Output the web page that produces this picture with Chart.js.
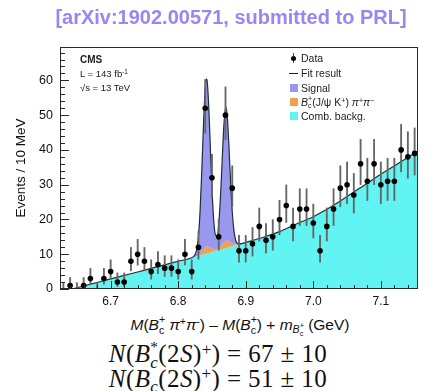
<!DOCTYPE html>
<html>
<head>
<meta charset="utf-8">
<script src="https://cdn.jsdelivr.net/npm/chart.js@4.4.1/dist/chart.umd.min.js"></script>
<style>
  html, body { margin: 0; padding: 0; background: #fff; }
  body { width: 441px; height: 391px; position: relative; overflow: hidden;
         font-family: "Liberation Sans", Arial, sans-serif; color: #111; }
  #wrap { position: absolute; left: 0; top: 0; width: 441px; height: 310px; }
  .abs { position: absolute; white-space: nowrap; z-index: 2; }
  #title { left: 0; top: 5px; width: 462px; text-align: center; font-weight: bold;
           font-size: 20px; line-height: 24px; color: #9c84f2; }
  .cms { left: 80px; font-size: 9.5px; line-height: 12px; color: #222; }
  .ss { display: inline-block; font-size: 0.68em; line-height: 1; vertical-align: -0.35em; text-align: left; }
  .ss > span { display: block; }
  .sp { font-size: 0.68em; vertical-align: 0.45em; line-height: 1; }
  .sb { font-size: 0.68em; vertical-align: -0.3em; line-height: 1; }
  .leg { left: 288px; font-size: 10.5px; line-height: 14px; height: 14px; color: #222; }
  .key { display: inline-block; position: relative; width: 11px; height: 14px; margin-right: 2px; vertical-align: top; }
  .sw { position: absolute; left: 2px; top: 3px; width: 8px; height: 8px; }
  .kbar { position: absolute; left: 5px; top: 2px; width: 1px; height: 10px; background: #444; }
  .kdot { position: absolute; left: 3px; top: 5px; width: 5px; height: 5px; border-radius: 50%; background: #000; }
  .kline { position: absolute; left: 1px; top: 7px; width: 9px; height: 1px; background: #222; }
  #xtitle { left: 0; top: 314px; width: 480px; text-align: center; font-size: 15.5px; line-height: 18px; color: #111; }
  .eq { left: 0; width: 436px; text-align: center; font-family: "Liberation Serif", "Times New Roman", serif;
        font-size: 25px; line-height: 26px; letter-spacing: 0.4px; color: #111; }
  .eq .star { font-size: 0.9em; }
</style>
</head>
<body>
<div id="title" class="abs">[arXiv:1902.00571, submitted to PRL]</div>

<div id="wrap"><canvas id="chart" width="441" height="310"></canvas></div>

<div class="abs cms" style="top:54px;font-weight:bold;font-size:10px;">CMS</div>
<div class="abs cms" style="top:68px;">L = 143 fb<span class="sp">-1</span></div>
<div class="abs cms" style="top:82px;">√s = 13 TeV</div>

<div class="abs leg" style="top:51px;"><span class="key"><span class="kbar"></span><span class="kdot"></span></span>Data</div>
<div class="abs leg" style="top:66px;"><span class="key"><span class="kline"></span></span>Fit result</div>
<div class="abs leg" style="top:81px;"><span class="key"><span class="sw" style="background:#9898ee;"></span></span>Signal</div>
<div class="abs leg" style="top:95px;"><span class="key"><span class="sw" style="background:#f2a050;"></span></span><i>B</i><span class="ss"><span>+</span><span>c</span></span>(J/ψ K<span class="sp">+</span>) <i>π</i><span class="sp">+</span><i>π</i><span class="sp">−</span></div>
<div class="abs leg" style="top:109px;"><span class="key"><span class="sw" style="background:#62f4f2;"></span></span>Comb. backg.</div>

<div id="xtitle" class="abs"><i>M</i>(<i>B</i><span class="ss"><span>+</span><span>c</span></span> <i>π</i><span class="sp">+</span><i>π</i><span class="sp">-</span>) – <i>M</i>(<i>B</i><span class="ss"><span>+</span><span>c</span></span>) + <i>m</i><span class="sb"><i>B</i><span class="ss"><span>+</span><span>c</span></span></span> (GeV)</div>

<div class="abs eq" style="top:339px;"><i>N</i>(<i>B</i><span class="ss"><span class="star">*</span><span><i>c</i></span></span>(2<i>S</i>)<span class="sp">+</span>)&nbsp;= 67 ± 10</div>
<div class="abs eq" style="top:365px;"><i>N</i>(<i>B<span class="sb">c</span></i>(2<i>S</i>)<span class="sp">+</span>)&nbsp;= 51 ± 10</div>

<script>
// Bin centres (GeV) and event counts per 10 MeV bin
const binMass = [6.63, 6.64, 6.65, 6.66, 6.67, 6.68, 6.69, 6.70, 6.71, 6.72,
                 6.73, 6.74, 6.75, 6.76, 6.77, 6.78, 6.79, 6.80, 6.81, 6.82,
                 6.83, 6.84, 6.85, 6.86, 6.87, 6.88, 6.89, 6.90, 6.91, 6.92,
                 6.93, 6.94, 6.95, 6.96, 6.97, 6.98, 6.99, 7.00, 7.01, 7.02,
                 7.03, 7.04, 7.05, 7.06, 7.07, 7.08, 7.09, 7.10, 7.11, 7.12,
                 7.13, 7.14, 7.15];
const counts = [0, 1, 0, 1, 3, 0, 3, 5, 2, 2,
                8, 10, 8, 5, 7, 6, 6, 5, 10, 5,
                12, 52, 32, 15, 50, 29, 11, 11, 13, 18,
                14, 15, 20, 24, 18, 23, 23, 19, 11, 18,
                23, 29, 30, 27, 36, 31, 36, 30, 31, 31,
                40, 38, 39];
// Asymmetric Poisson uncertainties (down / up)
const errLow = [0, 0.83, 0, 0.83, 1.63, 0, 1.63, 2.16, 1.29, 1.29,
                2.77, 3.11, 2.77, 2.16, 2.58, 2.38, 2.38, 2.16, 3.11, 2.16,
                3.42, 7.18, 5.62, 3.82, 7.04, 5.35, 3.27, 3.27, 3.56, 4.18,
                3.69, 3.82, 4.41, 4.86, 4.18, 4.75, 4.75, 4.30, 3.27, 4.18,
                4.75, 5.35, 5.45, 5.16, 5.97, 5.54, 5.97, 5.45, 5.54, 5.54,
                6.30, 6.14, 6.22];
const errHigh = [1.84, 2.30, 1.84, 2.30, 2.92, 1.84, 2.92, 3.38, 2.64, 2.64,
                 3.95, 4.27, 3.95, 3.38, 3.77, 3.58, 3.58, 3.38, 4.27, 3.38,
                 4.56, 8.26, 6.70, 4.95, 8.12, 6.42, 4.42, 4.42, 4.69, 5.30,
                 4.83, 4.95, 5.51, 5.94, 5.30, 5.84, 5.84, 5.41, 4.42, 5.30,
                 5.84, 6.42, 6.52, 6.23, 7.05, 6.61, 7.05, 6.52, 6.61, 6.61,
                 7.39, 7.22, 7.31];

// Fit curve samples: stacked tops of each component
const fitMass = [6.643, 6.66, 6.68, 6.70, 6.72, 6.74, 6.76, 6.78, 6.80,
                 6.82, 6.8225, 6.825, 6.8275, 6.83, 6.8325, 6.835, 6.8375, 6.84, 6.8418,
                 6.8425, 6.845, 6.8475, 6.85, 6.8525, 6.855, 6.8575, 6.86, 6.8625, 6.865,
                 6.8675, 6.8705, 6.8725, 6.875, 6.8775, 6.88, 6.8825, 6.885, 6.8875, 6.89,
                 6.895, 6.90, 6.925, 6.95, 6.975, 7.00, 7.025, 7.05, 7.075, 7.10, 7.125, 7.155];
const combTop = [0, 0.86, 1.88, 2.90, 3.90, 4.90, 5.95, 6.96, 7.98,
                 9.00, 9.14, 9.28, 9.41, 9.55, 9.69, 9.83, 9.96, 10.10, 10.20,
                 10.24, 10.38, 10.51, 10.65, 10.79, 10.93, 11.06, 11.20, 11.34, 11.48,
                 11.61, 11.78, 11.89, 12.03, 12.16, 12.30, 12.44, 12.58, 12.71, 12.85,
                 13.13, 13.40, 14.80, 16.50, 18.70, 20.80, 23.50, 26.60, 29.80, 33.00, 36.00, 39.70];
const peakingTop = [0, 0.86, 1.88, 2.90, 3.90, 4.90, 5.95, 6.96, 7.98,
                    9.00, 9.14, 9.28, 9.41, 9.55, 10.19, 10.83, 11.36, 11.90, 12.20,
                    12.34, 12.18, 11.91, 11.65, 11.49, 11.43, 11.46, 11.80, 12.24, 12.68,
                    13.31, 13.88, 13.89, 13.63, 13.36, 13.10, 12.94, 12.78, 12.71, 12.85,
                    13.13, 13.40, 14.80, 16.50, 18.70, 20.80, 23.50, 26.60, 29.80, 33.00, 36.00, 39.70];
const fitTop = [0, 0.86, 1.88, 2.90, 3.90, 4.90, 5.95, 6.96, 7.98,
                9.00, 9.30, 9.90, 11.5, 15.2, 22.9, 34.5, 47.6, 57.8, 60.4,
                60.2, 53.4, 41.1, 28.8, 20.0, 15.6, 15.2, 18.7, 26.2, 36.5,
                46.7, 52.4, 50.0, 41.5, 31.0, 22.2, 16.8, 14.1, 13.1, 12.9,
                13.13, 13.40, 14.80, 16.50, 18.70, 20.80, 23.50, 26.60, 29.80, 33.00, 36.00, 39.70];

const xTickValues = [6.7, 6.8, 6.9, 7.0, 7.1];
const yTickValues = [0, 10, 20, 30, 40, 50, 60];

const curve = arr => fitMass.map((m, i) => ({ x: m, y: arr[i] }));

// Frame and inward-pointing ticks, drawn from the scales
const frameTicks = {
  id: 'frameTicks',
  afterDatasetsDraw(chart) {
    const { ctx, chartArea: a, scales: { x, y } } = chart;
    ctx.save();
    ctx.strokeStyle = '#2a2a2a';
    ctx.lineWidth = 1;
    ctx.beginPath();
    x.ticks.forEach(t => {
      const px = Math.round(x.getPixelForValue(t.value)) + 0.5;
      ctx.moveTo(px, a.bottom); ctx.lineTo(px, a.bottom - 8);
    });
    for (let k = 332; k <= 357; k++) {
      if (k % 5 === 0) continue;
      const px = Math.round(x.getPixelForValue(k * 0.02)) + 0.5;
      ctx.moveTo(px, a.bottom); ctx.lineTo(px, a.bottom - 4);
    }
    y.ticks.forEach(t => {
      const py = Math.round(y.getPixelForValue(t.value)) + 0.5;
      ctx.moveTo(a.left, py); ctx.lineTo(a.left + 9, py);
    });
    for (let v = 2; v < 70; v += 2) {
      if (v % 10 === 0) continue;
      const py = Math.round(y.getPixelForValue(v)) + 0.5;
      ctx.moveTo(a.left, py); ctx.lineTo(a.left + 5, py);
    }
    ctx.stroke();
    ctx.strokeRect(Math.round(a.left) + 0.5, Math.round(a.top) + 0.5,
                   Math.round(a.right - a.left) - 1, Math.round(a.bottom - a.top) - 1);
    ctx.restore();
  }
};

new Chart(document.getElementById('chart'), {
  type: 'line',
  data: {
    datasets: [
      {
        label: 'Comb. backg.',
        data: curve(combTop),
        fill: 'origin',
        backgroundColor: '#62f4f2',
        borderWidth: 0,
        pointRadius: 0,
        cubicInterpolationMode: 'monotone',
        order: 5
      },
      {
        label: 'Bc+(J/psi K+) pi+pi-',
        data: curve(peakingTop),
        fill: '-1',
        backgroundColor: '#f2a050',
        borderWidth: 0,
        pointRadius: 0,
        cubicInterpolationMode: 'monotone',
        order: 4
      },
      {
        label: 'Signal',
        data: curve(fitTop),
        fill: '-1',
        backgroundColor: '#9898ee',
        borderColor: '#1f2f33',
        borderWidth: 1.2,
        pointRadius: 0,
        cubicInterpolationMode: 'monotone',
        order: 3
      },
      {
        type: 'bar',
        label: 'Data uncertainty',
        data: binMass.map((m, i) => ({ x: m, y: [counts[i] - errLow[i], counts[i] + errHigh[i]] })),
        backgroundColor: '#666666',
        borderWidth: 0,
        barThickness: 1.2,
        grouped: false,
        order: 2
      },
      {
        label: 'Data',
        data: binMass.map((m, i) => ({ x: m, y: counts[i] })),
        showLine: false,
        pointRadius: counts.map(c => c > 0 ? 2.8 : 0),
        pointBackgroundColor: '#000',
        pointBorderWidth: 0,
        order: 1
      }
    ]
  },
  options: {
    responsive: false,
    animation: false,
    events: [],
    layout: { padding: { top: 47, right: 23, left: 0, bottom: 0 } },
    plugins: { legend: { display: false }, tooltip: { enabled: false } },
    scales: {
      x: {
        type: 'linear',
        min: 6.625, max: 7.155,
        offset: false,
        grid: { display: false, drawTicks: false },
        border: { display: false },
        afterBuildTicks: s => { s.ticks = xTickValues.map(v => ({ value: v })); },
        afterFit: s => { s.height = 21; },
        ticks: {
          padding: 5,
          color: '#111',
          font: { family: 'Liberation Sans', size: 12 },
          callback: v => v.toFixed(1)
        }
      },
      y: {
        type: 'linear',
        min: 0, max: 69.6,
        grid: { display: false, drawTicks: false },
        border: { display: false },
        afterBuildTicks: s => { s.ticks = yTickValues.map(v => ({ value: v })); },
        afterFit: s => { s.width = 60; },
        ticks: {
          padding: 7,
          color: '#111',
          font: { family: 'Liberation Sans', size: 12.5 }
        },
        title: {
          display: true,
          text: 'Events / 10 MeV',
          color: '#111',
          font: { family: 'Liberation Sans', size: 13.5 },
          padding: { top: 13, bottom: 0 }
        }
      }
    }
  },
  plugins: [frameTicks]
});
</script>
</body>
</html>
